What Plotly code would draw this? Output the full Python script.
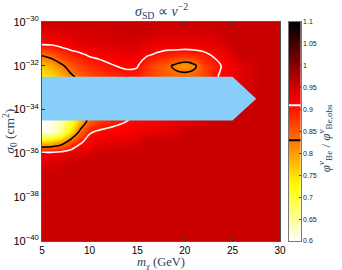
import plotly.graph_objects as go

# ---------------- data ----------------
m_chi = [5, 6, 7, 8, 9, 10, 11, 12, 13, 14, 15, 16, 17, 18, 19, 20, 21, 22, 23, 24, 25, 26, 28, 30]
log_sigma0 = [-40, -37, -36.5, -36, -35.5, -35, -34.5, -34, -33.5, -33, -32.5, -32, -31.5, -31, -30.5, -30]

B = 0.956
ratio_m40 = [B] * 24
ratio_m37 = [B] * 24
ratio_m365 = [0.945, 0.946, 0.948] + [B] * 21
ratio_m36 = [0.925, 0.925, 0.93, 0.935, 0.94, 0.945] + [B] * 18
ratio_m355 = [0.76, 0.77, 0.80, 0.86, 0.905, 0.925, 0.93, 0.935, 0.94, 0.94, 0.945] + [B] * 13
ratio_m35 = [0.61, 0.62, 0.66, 0.75, 0.84, 0.905, 0.915, 0.92, 0.92, 0.925, 0.928, 0.932, 0.935, 0.94, 0.945] + [B] * 9
ratio_m345 = [0.60, 0.61, 0.64, 0.70, 0.78, 0.85, 0.875, 0.89, 0.903, 0.91, 0.915, 0.918, 0.92, 0.925, 0.93, 0.935, 0.94, 0.945] + [B] * 6
ratio_m34 = [0.62, 0.63, 0.66, 0.72, 0.79, 0.85, 0.87, 0.885, 0.895, 0.905, 0.91, 0.912, 0.915, 0.92, 0.92, 0.925, 0.93, 0.935, 0.94, 0.942, 0.945, B, B, B]
ratio_m335 = [0.66, 0.67, 0.70, 0.75, 0.80, 0.85, 0.87, 0.88, 0.89, 0.90, 0.90, 0.90, 0.90, 0.90, 0.90, 0.90, 0.90, 0.91, 0.92, 0.93, 0.94, 0.945, B, B]
ratio_m33 = [0.70, 0.71, 0.74, 0.78, 0.82, 0.855, 0.87, 0.88, 0.89, 0.90, 0.90, 0.89, 0.88, 0.87, 0.86, 0.86, 0.87, 0.88, 0.90, 0.92, 0.93, 0.94, B, B]
ratio_m325 = [0.74, 0.75, 0.78, 0.82, 0.845, 0.86, 0.87, 0.88, 0.89, 0.90, 0.895, 0.875, 0.86, 0.85, 0.845, 0.85, 0.85, 0.86, 0.905, 0.915, 0.925, 0.94, B, B]
ratio_m32 = [0.77, 0.79, 0.82, 0.85, 0.87, 0.885, 0.895, 0.905, 0.912, 0.915, 0.913, 0.88, 0.86, 0.845, 0.82, 0.80, 0.82, 0.87, 0.89, 0.915, 0.93, 0.94, B, B]
ratio_m315 = [0.835, 0.85, 0.875, 0.895, 0.903, 0.915, 0.92, 0.925, 0.928, 0.932, 0.93, 0.915, 0.905, 0.895, 0.89, 0.885, 0.89, 0.90, 0.915, 0.925, 0.94, B, B, B]
ratio_m31 = [0.915, 0.917, 0.925, 0.93, 0.94, 0.94, 0.942, 0.944, 0.945, 0.946, 0.946, 0.935, 0.932, 0.932, 0.935, 0.935, 0.935, 0.935, 0.938, 0.942, B, B, B, B]
ratio_m305 = [0.935, 0.937, 0.94, 0.942, 0.944, 0.946, 0.947, 0.948, B, B, B, B, 0.946, 0.945, 0.945, 0.945, 0.945, 0.946, 0.948, B, B, B, B, B]
ratio_m30 = [B] * 24

flux_ratio = [ratio_m40, ratio_m37, ratio_m365, ratio_m36, ratio_m355, ratio_m35, ratio_m345,
              ratio_m34, ratio_m335, ratio_m33, ratio_m325, ratio_m32, ratio_m315, ratio_m31,
              ratio_m305, ratio_m30]

contour_levels = [0.91, 0.83]
contour_colors = ["white", "black"]

arrow_m = [5, 25, 27.5, 25, 5, 5]
arrow_logsigma = [-32.5, -32.5, -33.5, -34.5, -34.5, -32.5]

x_ticks = [5, 10, 15, 20, 25, 30]
y_ticks = [-40, -38, -36, -34, -32, -30]
y_ticktext = ["10<sup>\u2212%d</sup>" % (-v) for v in y_ticks]
cbar_ticks = [0.6, 0.65, 0.7, 0.75, 0.8, 0.85, 0.9, 0.95, 1.0, 1.05, 1.1]
cbar_ticktext = ["0.6", "0.65", "0.7", "0.75", "0.8", "0.85", "0.9", "0.95", "1", "1.05", "1.1"]
cbar_range = [0.6, 1.1]

# hot_r colorscale
hot_r = [[0.0, "rgb(255,255,255)"], [0.254, "rgb(255,255,0)"],
         [0.635, "rgb(255,0,0)"], [1.0, "rgb(0,0,0)"]]

fig = go.Figure()

fig.add_trace(go.Heatmap(
    x=m_chi, y=log_sigma0, z=flux_ratio, zsmooth="best",
    colorscale=hot_r, showscale=False, zmin=cbar_range[0], zmax=cbar_range[1],
    xaxis="x", yaxis="y", hoverinfo="skip",
))

for lev, col in zip(contour_levels, contour_colors):
    fig.add_trace(go.Contour(
        x=m_chi, y=log_sigma0, z=flux_ratio,
        contours=dict(start=lev, end=lev, size=1, coloring="none", showlines=True),
        line=dict(color=col, width=1.6),
        showscale=False, xaxis="x", yaxis="y", hoverinfo="skip",
    ))

fig.add_trace(go.Scatter(
    x=arrow_m, y=arrow_logsigma, mode="lines", fill="toself",
    fillcolor="#87CEFA", line=dict(width=0, color="#87CEFA"),
    showlegend=False, hoverinfo="skip", xaxis="x", yaxis="y",
))

# colour bar drawn as its own small heatmap panel
fig.add_trace(go.Heatmap(
    x=[0, 1], y=cbar_range, z=[[cbar_range[0], cbar_range[0]], [cbar_range[1], cbar_range[1]]],
    colorscale=hot_r, zmin=cbar_range[0], zmax=cbar_range[1], zsmooth="best",
    showscale=False, xaxis="x2", yaxis="y2", hoverinfo="skip",
))

W, H = 342, 270
ml, mr, mt, mb = 42, 4, 22, 29
pw = W - ml - mr
ph = H - mt - mb

def px_x(p):
    return (p - ml) / pw

def px_y(p):
    return (H - mb - p) / ph

shapes = []
for lev, col in zip(contour_levels, contour_colors):
    shapes.append(dict(type="line", xref="x2", yref="y2", x0=0, x1=1, y0=lev, y1=lev,
                       line=dict(color=col, width=2)))

sans = "Liberation Sans, Arial, sans-serif"
serif = "Liberation Serif, Times New Roman, serif"

fig.update_layout(
    width=W, height=H,
    margin=dict(l=ml, r=mr, t=mt, b=mb),
    paper_bgcolor="white", plot_bgcolor="white",
    showlegend=False,
    xaxis=dict(domain=[0, px_x(285)], range=[5, 30], tickvals=x_ticks,
               ticks="inside", ticklen=3, tickcolor="#333", mirror="ticks",
               showline=True, linecolor="#555", linewidth=1, showgrid=False, zeroline=False,
               tickfont=dict(family=sans, size=10, color="black")),
    yaxis=dict(range=[-40, -30], tickvals=y_ticks, ticktext=y_ticktext,
               ticks="inside", ticklen=3, tickcolor="#333", mirror="ticks",
               showline=True, linecolor="#555", linewidth=1, showgrid=False, zeroline=False,
               tickfont=dict(family=sans, size=11, color="black")),
    xaxis2=dict(domain=[px_x(294), px_x(306)], range=[0, 1], showticklabels=False,
                ticks="", showgrid=False, zeroline=False, showline=True, mirror=True,
                linecolor="#777", linewidth=1, anchor="y2"),
    yaxis2=dict(domain=[0, 1], range=cbar_range, anchor="x2", side="right",
                tickvals=cbar_ticks, ticktext=cbar_ticktext, ticks="inside", ticklen=2,
                tickcolor="#444", showgrid=False,
                zeroline=False, showline=True, mirror=True, linecolor="#777", linewidth=1,
                tickfont=dict(family=sans, size=7, color="#222")),
    shapes=shapes,
    annotations=[
        dict(text="<i>σ</i><sub>SD</sub> ∝ <i>v</i><sup>−2</sup>", xref="paper", yref="paper",
             x=px_x(163.5), y=px_y(11), showarrow=False, font=dict(family=serif, size=14),
             xanchor="center", yanchor="middle"),
        dict(text="<i>m</i><sub>χ</sub> (GeV)", xref="paper", yref="paper",
             x=px_x(163.5), y=px_y(263), showarrow=False, font=dict(family=serif, size=12.5),
             xanchor="center", yanchor="middle"),
        dict(text="<i>σ</i><sub>0</sub> (cm<sup>2</sup>)", xref="paper", yref="paper",
             x=px_x(9), y=px_y(131), showarrow=False, textangle=-90,
             font=dict(family=serif, size=13.5), xanchor="center", yanchor="middle"),
        dict(text="<i>φ</i><sup><i>ν</i></sup><sub>Be</sub> / <i>φ</i><sup><i>ν</i></sup><sub>Be,obs</sub>",
             xref="paper", yref="paper", x=px_x(331), y=px_y(138), showarrow=False,
             textangle=-90, font=dict(family=serif, size=13), xanchor="center", yanchor="middle"),
    ],
)

fig.write_html("out.html", config={"displayModeBar": False},
               post_script="document.body.style.margin='0px';")
